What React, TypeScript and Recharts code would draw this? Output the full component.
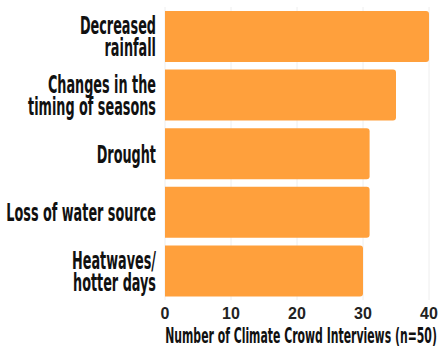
import { BarChart, Bar, XAxis, YAxis, CartesianGrid } from 'recharts';

const categories = [
  'Decreased\nrainfall',
  'Changes in the\ntiming of seasons',
  'Drought',
  'Loss of water source',
  'Heatwaves/\nhotter days',
];

const interviews = [40, 35, 31, 31, 30];

const xTicks = [0, 10, 20, 30, 40];

const axisTitle = 'Number of Climate Crowd Interviews (n=50)';

const data = categories.map((name, i) => ({ name, value: interviews[i] }));

const BAR_COLOR = '#FFA03C';
const NARROW = '"Liberation Sans Narrow", "DejaVu Sans Condensed", sans-serif';

const CategoryTick = (props: any) => {
  const { x, y, payload } = props;
  const lines: string[] = String(payload.value).split('\n');
  const lineHeight = 22;
  const first = y - ((lines.length - 1) * lineHeight) / 2 + 9;
  return (
    <g>
      {lines.map((line, i) => (
        <text
          key={i}
          transform={`translate(${x - 1}, ${first + i * lineHeight}) scale(0.57, 1)`}
          textAnchor="end"
          fontFamily={NARROW}
          fontWeight="bold"
          fontSize={25}
          fill="#111"
        >
          {line}
        </text>
      ))}
    </g>
  );
};

const AxisTitle = (props: any) => {
  const { viewBox } = props;
  const cx = viewBox.x + viewBox.width / 2 + 4;
  return (
    <text
      transform={`translate(${cx}, 343) scale(0.55, 1)`}
      textAnchor="middle"
      fontFamily={NARROW}
      fontWeight="bold"
      fontSize={22}
      fill="#111"
    >
      {axisTitle}
    </text>
  );
};

export default function App() {
  return (
    <div style={{ position: 'absolute', left: 0, top: 0 }}>
      <BarChart
        width={441}
        height={348}
        data={data}
        layout="vertical"
        margin={{ top: 7, right: 12, bottom: 0, left: 0 }}
      >
        <CartesianGrid horizontal={false} stroke="#eeeeee" />
        <XAxis
          type="number"
          domain={[0, 40]}
          ticks={xTicks}
          height={48}
          axisLine={false}
          tickLine={false}
          tick={{ fontFamily: '"Liberation Sans", Arial, sans-serif', fontWeight: 'bold', fontSize: 16, fill: '#222' }}
          label={{ content: AxisTitle }}
        />
        <YAxis
          type="category"
          dataKey="name"
          width={165}
          axisLine={false}
          tickLine={false}
          tick={CategoryTick}
          interval={0}
        />
        <Bar
          dataKey="value"
          fill={BAR_COLOR}
          barSize={51}
          radius={[0, 3, 3, 0]}
          isAnimationActive={false}
        />
      </BarChart>
    </div>
  );
}
